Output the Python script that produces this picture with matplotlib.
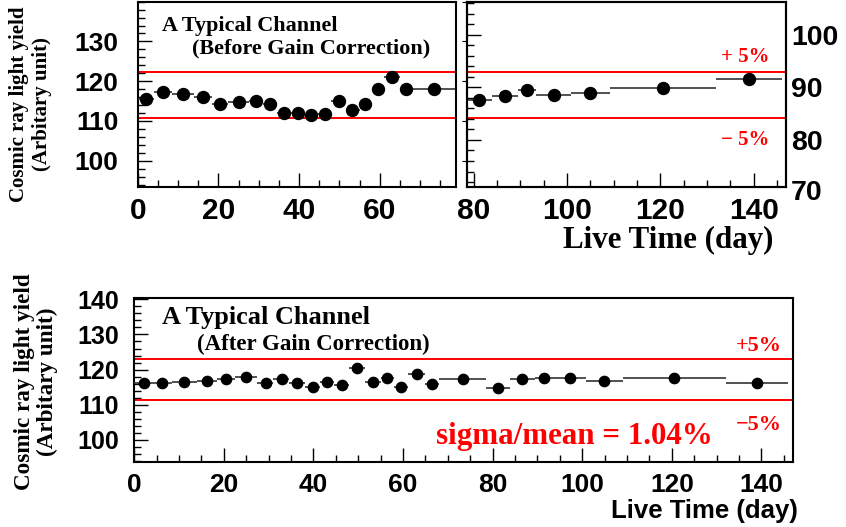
import matplotlib
matplotlib.use("Agg")
import matplotlib.pyplot as plt
import matplotlib.transforms as mtransforms
from matplotlib.ticker import MultipleLocator, FixedLocator
import numpy as np

# ---------------- data ----------------
live_day = [2.1, 6.2, 11.2, 16.3, 20.4, 25.0, 29.4, 32.9, 36.3, 39.8, 43.0, 46.4, 49.8,
            53.2, 56.3, 59.5, 63.0, 66.5, 73.4, 81.2, 86.6, 91.4, 97.2, 104.9, 120.5, 139.0]
bin_edges = [0, 4, 8.5, 14, 18.5, 22.5, 27.5, 31, 34.5, 38, 41.5, 44.5, 48, 51.5, 55, 58,
             61, 65, 68, 78.6, 83.9, 89.4, 93.4, 100.9, 109.1, 132, 146]
yield_before = [115.6, 117.2, 116.8, 116.1, 114.3, 114.7, 115.1, 114.2, 112.0, 111.9, 111.5,
                111.8, 115.0, 112.8, 114.3, 118.1, 121.1, 118.0, 118.0, 115.25, 116.25,
                117.85, 116.5, 117.0, 118.3, 120.6]
yield_after = [116.2, 116.2, 116.4, 116.8, 117.35, 117.8, 116.3, 117.35, 116.3, 115.1, 116.4,
               115.7, 120.5, 116.4, 117.6, 115.1, 118.8, 116.0, 117.35, 114.7, 117.2, 117.7,
               117.5, 116.7, 117.5, 116.3]
mean_before = 116.55
mean_after = 117.1
band_frac = 0.05
split_day = 78.6
right_axis_ticks = [80, 90, 100]
right_axis_extra = 70

x = np.array(live_day)
edges = np.array(bin_edges)
xerr = np.vstack([x - edges[:-1], edges[1:] - x])
yb = np.array(yield_before)
ya = np.array(yield_after)

W, H = 846, 527
fig = plt.figure(figsize=(W / 100, H / 100), dpi=100)

def box(l, t, r, b):
    return [l / W, 1 - b / H, (r - l) / W, (b - t) / H]

SANS = "Liberation Sans"
SERIF = "Liberation Serif"

def style_axis(ax, lw=1.5):
    for s in ax.spines.values():
        s.set_linewidth(lw)
        s.set_color("black")

def fig_text(px, py, s, **kw):
    fig.text(px / W, 1 - py / H, s, **kw)

# ---------------- top-left ----------------
ax1 = fig.add_axes(box(137.7, 1.7, 455.7, 187.3))
m = x < split_day
ax1.errorbar(x[m], yb[m], xerr=xerr[:, m], fmt="o", color="black", ecolor="#333333",
             elinewidth=1.2, markersize=8.6, capsize=0, zorder=3)
ax1.set_xlim(0, 78.8)
ax1.set_ylim(93.3, 140)
for v in (mean_before * (1 + band_frac), mean_before * (1 - band_frac)):
    ax1.axhline(v, color="red", lw=1.4, zorder=2)
ax1.xaxis.set_major_locator(MultipleLocator(20))
ax1.xaxis.set_minor_locator(MultipleLocator(5))
ax1.yaxis.set_major_locator(FixedLocator([100, 110, 120, 130]))
ax1.yaxis.set_minor_locator(MultipleLocator(2))
ax1.tick_params(which="both", direction="in", width=1.0, top=False, right=False)
ax1.tick_params(which="major", length=10)
ax1.tick_params(which="minor", length=5)
ax1.tick_params(axis="x", which="major", pad=7, labelsize=21.5)
ax1.tick_params(axis="y", which="major", pad=14, labelsize=19)
for lab in ax1.get_xticklabels() + ax1.get_yticklabels():
    lab.set_fontfamily(SANS)
    lab.set_fontweight("bold")
style_axis(ax1)

# ---------------- top-right ----------------
ax2 = fig.add_axes(box(467.3, 1.7, 785.5, 187.3))
m = x >= split_day
ax2.errorbar(x[m], yb[m], xerr=xerr[:, m], fmt="o", color="black", ecolor="#333333",
             elinewidth=1.2, markersize=8.6, capsize=0, zorder=3)
ax2.set_xlim(78.6, 146.8)
ax2.set_ylim(93.3, 140)
for v in (mean_before * (1 + band_frac), mean_before * (1 - band_frac)):
    ax2.axhline(v, color="red", lw=1.4, zorder=2)
ax2.xaxis.set_major_locator(MultipleLocator(20))
ax2.xaxis.set_minor_locator(MultipleLocator(5))
ax2.tick_params(axis="y", which="both", left=False, right=False, labelleft=False)
ax2.tick_params(axis="x", which="both", direction="in", width=1.0, top=False)
ax2.tick_params(axis="x", which="major", length=10, pad=7, labelsize=21.5)
ax2.tick_params(axis="x", which="minor", length=5)
for lab in ax2.get_xticklabels():
    lab.set_fontfamily(SANS)
    lab.set_fontweight("bold")
style_axis(ax2)

ax2r = ax2.twinx()
ax2r.set_ylim(71.0, 106.3)
ax2r.yaxis.set_major_locator(FixedLocator(right_axis_ticks))
ax2r.yaxis.set_minor_locator(MultipleLocator(2))
ax2r.tick_params(axis="y", which="both", direction="in", width=1.0,
                 left=True, right=False, labelleft=False, labelright=True)
ax2r.tick_params(axis="y", which="major", length=10, pad=4, labelsize=20.5)
ax2r.tick_params(axis="y", which="minor", length=5)
for lab in ax2r.get_yticklabels():
    lab.set_fontfamily(SANS)
    lab.set_fontweight("bold")
style_axis(ax2r)
trans = mtransforms.blended_transform_factory(ax2r.transAxes, ax2r.transData)
ax2r.text(1 + 5.5 / 318, right_axis_extra, str(right_axis_extra), transform=trans,
          ha="left", va="center", fontsize=20.5, fontfamily=SANS, fontweight="bold",
          clip_on=False)

# top texts
fig_text(162, 31, "A Typical Channel", fontsize=15.9, fontfamily=SERIF,
         fontweight="bold", va="baseline")
fig_text(192, 53, "(Before Gain Correction)", fontsize=15.9, fontfamily=SERIF,
         fontweight="bold", va="baseline")
fig_text(721, 62, "+ 5%", fontsize=15, fontfamily=SERIF, fontweight="bold",
         color="red", va="baseline")
fig_text(721, 145, "\u2212 5%", fontsize=15, fontfamily=SERIF, fontweight="bold",
         color="red", va="baseline")
fig_text(773, 248, "Live Time (day)", fontsize=22.3, fontfamily=SERIF,
         fontweight="bold", ha="right", va="baseline")
fig_text(30.5, 104, "Cosmic ray light yield\n(Arbitary unit)", fontsize=15,
         fontfamily=SERIF, fontweight="bold", rotation=90, ha="center", va="center",
         linespacing=1.15, multialignment="center")

# ---------------- bottom ----------------
ax3 = fig.add_axes(box(134.3, 298.3, 793.3, 462.3))
ax3.errorbar(x, ya, xerr=xerr, fmt="o", color="black", ecolor="#333333",
             elinewidth=1.2, markersize=7.4, capsize=0, zorder=3)
ax3.set_xlim(0, 147.1)
ax3.set_ylim(93.6, 140.3)
for v in (mean_after * (1 + band_frac), mean_after * (1 - band_frac)):
    ax3.axhline(v, color="red", lw=1.4, zorder=2)
ax3.xaxis.set_major_locator(MultipleLocator(20))
ax3.xaxis.set_minor_locator(MultipleLocator(5))
ax3.yaxis.set_major_locator(MultipleLocator(10))
ax3.yaxis.set_minor_locator(MultipleLocator(2))
ax3.tick_params(which="both", direction="in", width=1.0, top=False, right=False)
ax3.tick_params(which="major", length=10)
ax3.tick_params(which="minor", length=5)
ax3.tick_params(axis="x", which="major", pad=8, labelsize=19)
ax3.tick_params(axis="y", which="major", pad=11, labelsize=18)
for lab in ax3.get_xticklabels() + ax3.get_yticklabels():
    lab.set_fontfamily(SANS)
    lab.set_fontweight("bold")
style_axis(ax3)

fig_text(162, 324, "A Typical Channel", fontsize=18.9, fontfamily=SERIF,
         fontweight="bold", va="baseline")
fig_text(197, 350, "(After Gain Correction)", fontsize=16.5, fontfamily=SERIF,
         fontweight="bold", va="baseline")
fig_text(736, 351, "+5%", fontsize=16, fontfamily=SERIF, fontweight="bold",
         color="red", va="baseline")
fig_text(736, 430, "\u22125%", fontsize=16, fontfamily=SERIF, fontweight="bold",
         color="red", va="baseline")
fig_text(436, 444, "sigma/mean = 1.04%", fontsize=22.3, fontfamily=SERIF,
         fontweight="bold", color="red", va="baseline")
fig_text(798, 518, "Live Time (day)", fontsize=18.5, fontfamily=SANS,
         fontweight="bold", ha="right", va="baseline")
fig_text(36, 381.7, "Cosmic ray light yield\n(Arbitary unit)", fontsize=16.7,
         fontfamily=SERIF, fontweight="bold", rotation=90, ha="center", va="center",
         linespacing=1.15, multialignment="center")

fig.savefig("out.png", dpi=100)
